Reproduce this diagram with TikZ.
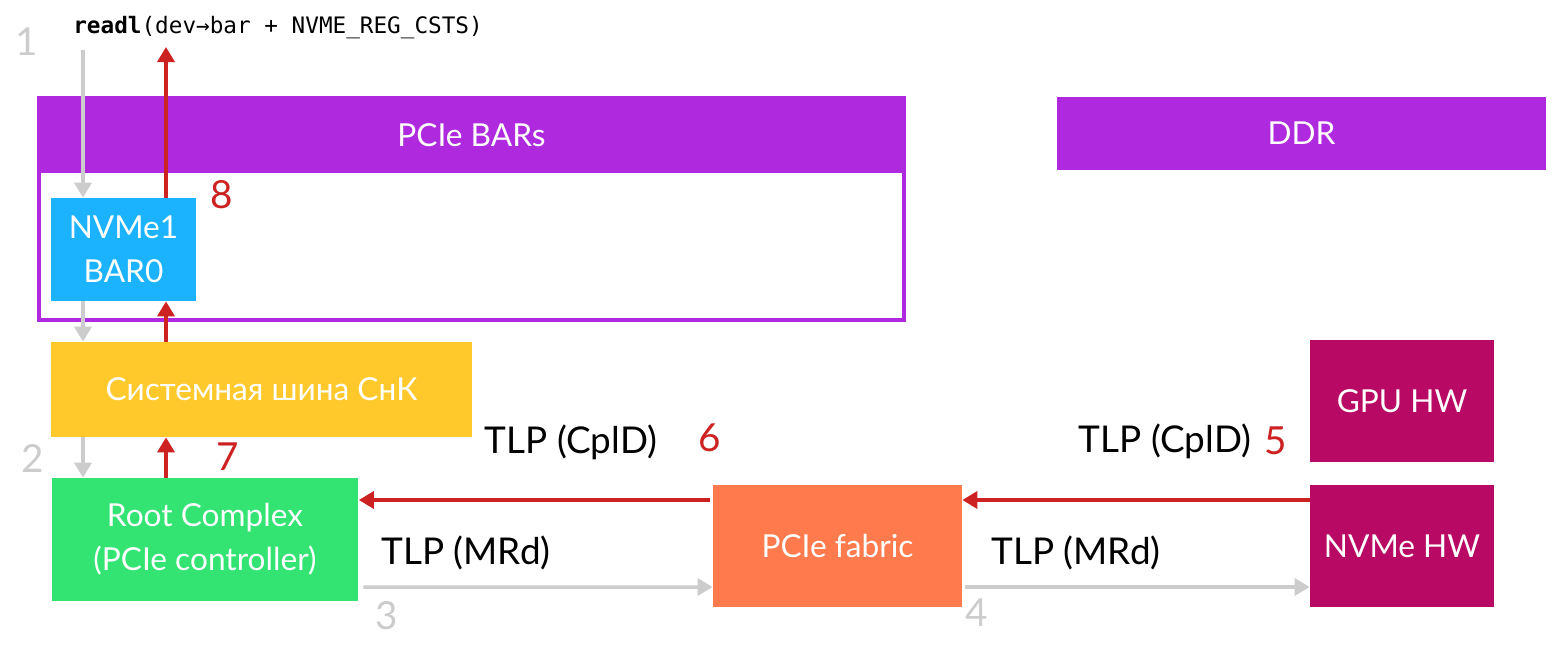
\documentclass[tikz,border=0pt]{standalone}
\usepackage{fontspec}
\setmainfont{Lato}
\setmonofont{DejaVu Sans Mono}
\usepackage{xcolor}
\usepackage{tikz}
\usetikzlibrary{arrows.meta}
\usetikzlibrary{calc}

\definecolor{barpurple}{HTML}{AF2ADF}
\definecolor{busyellow}{HTML}{FFC92C}
\definecolor{barblue}{HTML}{1BB3FE}
\definecolor{rcgreen}{HTML}{33E472}
\definecolor{fabricorange}{HTML}{FF7A4D}
\definecolor{hwmagenta}{HTML}{B80964}
\definecolor{reqgray}{HTML}{CCCCCC}
\definecolor{cplred}{HTML}{CC2222}

\begin{document}
\begin{tikzpicture}[x=0.2mm, y=-0.2mm, inner sep=0pt,
    block/.style={fill=#1, text=white, align=center, font=\fontsize{18}{25}\selectfont},
    tlp/.style={font=\fontsize{21}{25}\selectfont},
    stepno/.style={font=\fontsize{22}{25}\selectfont},
    req/.style={draw=reqgray, line width=0.7mm, -{Triangle[length=3mm, width=3.4mm]}},
    cpl/.style={draw=cplred, line width=0.7mm, -{Triangle[length=3mm, width=3.4mm]}}]
    \useasboundingbox (0,0) rectangle (1560,663);
    % memory map
    \node[draw=barpurple, line width=0.8mm, minimum width=173mm, minimum height=44.4mm] (frame) at (471.5,209) {};
    \node[block=barpurple, minimum width=173.8mm, minimum height=15.2mm] (bars) at (471.5,135) {PCIe BARs};
    \node[block=barpurple, minimum width=97.8mm, minimum height=14.6mm] (ddr) at (1301.5,133.5) {DDR};
    \node[block=barblue, minimum width=29mm, minimum height=20.6mm] (bar0) at (123.5,249.5) {NVMe1\\BAR0};
    % SoC side
    \node[block=busyellow, minimum width=84.2mm, minimum height=19mm] (bus) at (261.5,389.5) {Системная шина СнК};
    \node[block=rcgreen, minimum width=61.2mm, minimum height=24.6mm] (rc) at (205,539.5) {Root Complex\\(PCIe controller)};
    \node[block=fabricorange, minimum width=49.8mm, minimum height=24.4mm] (fabric) at (837.5,546) {PCIe fabric};
    \node[block=hwmagenta, minimum width=36.8mm, minimum height=24.4mm] (gpu) at (1402,401) {GPU HW};
    \node[block=hwmagenta, minimum width=36.8mm, minimum height=24.4mm] (nvme) at (1402,546) {NVMe HW};
    % code line
    \node[anchor=west, font=\ttfamily\fontsize{12.9}{15}\selectfont] (code) at (73,28)
    {\textbf{readl}(dev→bar + NVME\_REG\_CSTS)};
    \coordinate (codein) at (83,50);
    \coordinate (codeout) at (166,47);
    % request path
    \draw[req] (codein) -- (codein |- bar0.north);
    \draw[req] (codein |- bar0.south) -- (codein |- bus.north);
    \draw[req] (codein |- bus.south) -- (codein |- rc.north);
    \draw[req, shorten <=1mm] ($(rc.east)+(0,47.5)$) -- ($(fabric.west)+(0,41)$);
    \draw[req, shorten <=0.6mm] ($(fabric.east)+(0,41)$) -- ($(nvme.west)+(0,41)$);
    % completion path
    \draw[cpl] ($(nvme.west)+(0,-46)$) -- ($(fabric.east)+(0,-46)$);
    \draw[cpl, shorten <=0.6mm] ($(fabric.west)+(0,-46)$) -- ($(rc.east)+(0.5,-39.5)$);
    \draw[cpl] (codeout |- rc.north) -- (codeout |- bus.south);
    \draw[cpl] (codeout |- bus.north) -- (codeout |- bar0.south);
    \draw[cpl] (codeout |- bar0.north) -- (codeout);
    % labels
    \node[tlp] (cpl1) at (571,442) {TLP (CplD)};
    \node[tlp] (mrd1) at (466,553) {TLP (MRd)};
    \node[tlp] (cpl2) at (1165,441) {TLP (CplD)};
    \node[tlp] (mrd2) at (1076,553) {TLP (MRd)};
    \node[stepno, text=reqgray] (n1) at (27,42) {1};
    \node[stepno, text=reqgray] (n2) at (33,458) {2};
    \node[stepno, text=reqgray] (n3) at (387,616) {3};
    \node[stepno, text=reqgray] (n4) at (977,613) {4};
    \node[stepno, text=cplred] (n5) at (1276,441) {5};
    \node[stepno, text=cplred] (n6) at (710,438) {6};
    \node[stepno, text=cplred] (n7) at (228,457) {7};
    \node[stepno, text=cplred] (n8) at (222,195) {8};
\end{tikzpicture}
\end{document}
